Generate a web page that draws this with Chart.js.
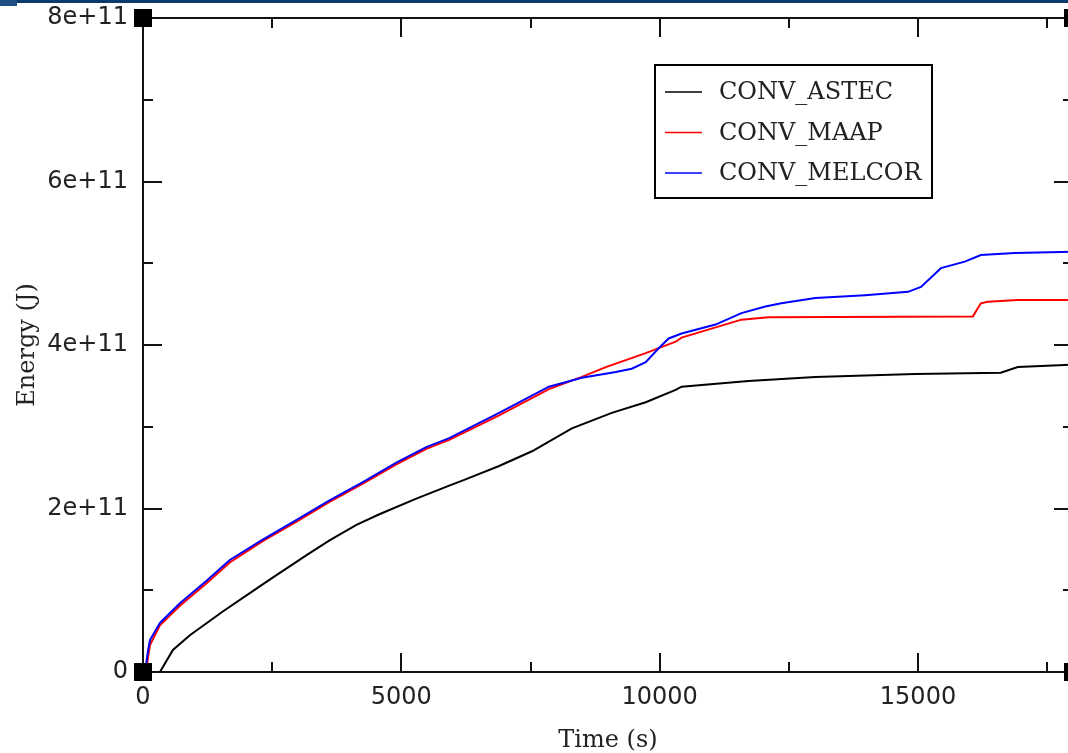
<!DOCTYPE html>
<html>
<head>
<meta charset="utf-8">
<script src="https://cdn.jsdelivr.net/npm/chart.js@4.4.0/dist/chart.umd.min.js"></script>
<style>
  html, body { margin: 0; padding: 0; background: #fff; overflow: hidden; width: 1068px; height: 753px; }
  #wrap { position: relative; width: 1080px; height: 753px; }
  #barra { position: absolute; left: 17px; top: 0; width: 1063px; height: 3px; background: #0b3a6c; }
  #barraIzq { position: absolute; left: 0; top: 0; width: 17px; height: 6px; background: #1d4e84; }
</style>
</head>
<body>
<div id="wrap">
  <canvas id="graficoEnergia" width="1080" height="753"></canvas>
  <div id="barra"></div>
  <div id="barraIzq"></div>
</div>
<script>
// tiempos en s, energia en J
const tiempoAstec = [328, 579, 907, 1236, 1544, 2124, 2452, 3166, 3610, 4131, 4575, 5290, 5927, 6255, 6892, 7529, 8301, 9073, 9730, 10309, 10425, 11718, 13012, 14942, 16602, 16931, 17838, 18000];
const energiaAstec = [0, 0.27e11, 0.45e11, 0.60e11, 0.74e11, 0.99e11, 1.13e11, 1.43e11, 1.61e11, 1.80e11, 1.93e11, 2.12e11, 2.28e11, 2.36e11, 2.52e11, 2.70e11, 2.98e11, 3.17e11, 3.30e11, 3.45e11, 3.49e11, 3.56e11, 3.61e11, 3.645e11, 3.66e11, 3.73e11, 3.755e11, 3.76e11];

const tiempoMaap = [58, 97, 135, 328, 714, 1236, 1680, 2317, 2973, 3610, 4247, 4903, 5483, 5927, 6892, 7857, 8494, 8958, 9730, 10309, 10425, 11583, 12104, 16062, 16216, 16351, 16931, 18000];
const energiaMaap = [0, 0.18e11, 0.33e11, 0.57e11, 0.81e11, 1.09e11, 1.34e11, 1.60e11, 1.84e11, 2.08e11, 2.30e11, 2.54e11, 2.73e11, 2.84e11, 3.14e11, 3.46e11, 3.61e11, 3.73e11, 3.90e11, 4.04e11, 4.09e11, 4.31e11, 4.34e11, 4.35e11, 4.51e11, 4.53e11, 4.55e11, 4.55e11];

const tiempoMelcor = [39, 97, 135, 328, 714, 1236, 1680, 2317, 2973, 3610, 4247, 4903, 5483, 5927, 6892, 7857, 8494, 9151, 9459, 9730, 9981, 10174, 10425, 11081, 11583, 12046, 12355, 13012, 13977, 14807, 15058, 15444, 15907, 16216, 16873, 18000];
const energiaMelcor = [0, 0.26e11, 0.39e11, 0.60e11, 0.84e11, 1.12e11, 1.37e11, 1.62e11, 1.86e11, 2.10e11, 2.32e11, 2.56e11, 2.75e11, 2.86e11, 3.17e11, 3.49e11, 3.60e11, 3.67e11, 3.71e11, 3.79e11, 3.96e11, 4.08e11, 4.14e11, 4.25e11, 4.39e11, 4.47e11, 4.51e11, 4.575e11, 4.61e11, 4.65e11, 4.71e11, 4.94e11, 5.02e11, 5.10e11, 5.125e11, 5.14e11];

const nombres = ['CONV_ASTEC', 'CONV_MAAP', 'CONV_MELCOR'];
const colores = ['#000000', '#ff0000', '#0000ff'];

const ticksX = [0, 5000, 10000, 15000];
const ticksXMenores = [2500, 7500, 12500, 17500];
const ticksY = [0, 2e11, 4e11, 6e11, 8e11];
const ticksYMenores = [1e11, 3e11, 5e11, 7e11];

function puntos(xs, ys) {
  return xs.map((x, i) => ({ x: x, y: ys[i] }));
}

// marco, ticks hacia dentro, cuadrados en las esquinas y leyenda con borde
const marcoGrace = {
  id: 'marcoGrace',
  afterDatasetsDraw(chart) {
    const ctx = chart.ctx;
    const a = chart.chartArea;
    const sx = chart.scales.x;
    const sy = chart.scales.y;
    ctx.save();
    ctx.strokeStyle = '#111';
    ctx.lineWidth = 2;
    ctx.strokeRect(a.left, a.top, a.right - a.left, a.bottom - a.top);
    ctx.beginPath();
    ticksX.concat(ticksXMenores).forEach(v => {
      const len = ticksX.includes(v) ? 19 : 10;
      const px = Math.round(sx.getPixelForValue(v));
      ctx.moveTo(px, a.bottom); ctx.lineTo(px, a.bottom - len);
      ctx.moveTo(px, a.top); ctx.lineTo(px, a.top + len);
    });
    ticksY.concat(ticksYMenores).forEach(v => {
      const len = ticksY.includes(v) ? 19 : 10;
      const py = Math.round(sy.getPixelForValue(v));
      ctx.moveTo(a.left, py); ctx.lineTo(a.left + len, py);
      ctx.moveTo(a.right, py); ctx.lineTo(a.right - len, py);
    });
    ctx.stroke();
    ctx.fillStyle = '#000';
    [[a.left, a.top], [a.left, a.bottom], [a.right, a.top], [a.right, a.bottom]].forEach(p => {
      ctx.fillRect(p[0] - 9, p[1] - 9, 18, 18);
    });
    ctx.restore();
  },
  afterDraw(chart) {
    const ctx = chart.ctx;
    ctx.save();
    ctx.fillStyle = '#fff';
    ctx.fillRect(655, 65, 277, 133);
    ctx.strokeStyle = '#000';
    ctx.lineWidth = 2;
    ctx.strokeRect(655, 65, 277, 133);
    ctx.font = '24px "DejaVu Serif"';
    ctx.textBaseline = 'middle';
    chart.data.datasets.forEach((ds, i) => {
      const y = 92 + i * 40.5;
      ctx.strokeStyle = ds.borderColor;
      ctx.lineWidth = 1.5;
      ctx.beginPath();
      ctx.moveTo(665, y); ctx.lineTo(702, y);
      ctx.stroke();
      ctx.fillStyle = '#222';
      ctx.fillText(ds.label, 719, y + 1);
    });
    ctx.restore();
  }
};

const ctx = document.getElementById('graficoEnergia').getContext('2d');
new Chart(ctx, {
  type: 'line',
  data: {
    datasets: [
      { label: nombres[0], data: puntos(tiempoAstec, energiaAstec), borderColor: colores[0], order: 3 },
      { label: nombres[1], data: puntos(tiempoMaap, energiaMaap), borderColor: colores[1], order: 2 },
      { label: nombres[2], data: puntos(tiempoMelcor, energiaMelcor), borderColor: colores[2], order: 1 }
    ]
  },
  options: {
    responsive: false,
    animation: false,
    devicePixelRatio: 1,
    layout: { padding: { top: 18, right: 7, bottom: 0, left: 0 } },
    elements: {
      line: { borderWidth: 2, tension: 0, fill: false },
      point: { radius: 0 }
    },
    plugins: { legend: { display: false }, tooltip: { enabled: false } },
    scales: {
      x: {
        type: 'linear',
        min: 0,
        max: 18000,
        afterFit: s => { s.height = 81; s.paddingLeft = 0; s.paddingRight = 0; },
        afterBuildTicks: s => { s.ticks = ticksX.map(v => ({ value: v })); },
        grid: { display: false, drawTicks: false },
        border: { display: false },
        ticks: {
          padding: 11,
          color: '#222',
          font: { family: '"DejaVu Sans"', size: 24 },
          maxRotation: 0,
          callback: v => String(v)
        },
        title: {
          display: true,
          text: 'Time (s)',
          color: '#222',
          font: { family: '"DejaVu Serif"', size: 24, lineHeight: 1 },
          padding: { top: 0, bottom: 0 }
        }
      },
      y: {
        type: 'linear',
        min: 0,
        max: 8e11,
        afterFit: s => { s.width = 143; s.paddingTop = 0; s.paddingBottom = 0; },
        afterBuildTicks: s => { s.ticks = ticksY.map(v => ({ value: v })); },
        grid: { display: false, drawTicks: false },
        border: { display: false },
        ticks: {
          padding: 15,
          color: '#222',
          font: { family: '"DejaVu Sans"', size: 24 },
          callback: v => v === 0 ? '0' : (v / 1e11) + 'e+11'
        },
        title: {
          display: true,
          text: 'Energy (J)',
          color: '#222',
          font: { family: '"DejaVu Serif"', size: 24, lineHeight: 1 },
          padding: { top: 16, bottom: 0 }
        }
      }
    }
  },
  plugins: [marcoGrace]
});
</script>
</body>
</html>
